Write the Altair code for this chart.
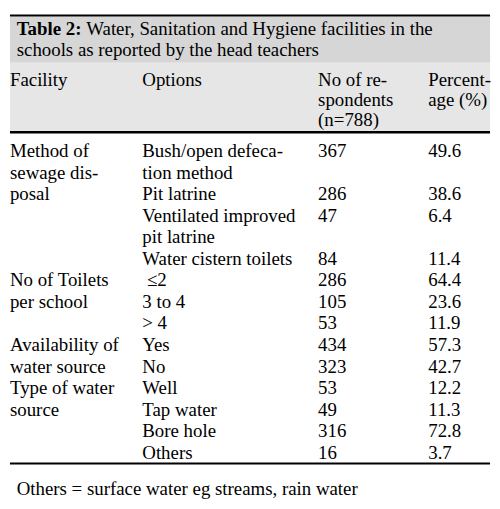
import altair as alt
import pandas as pd

# ---------------- data ----------------
title_bold = "Table 2:"
title_lines = ["Water, Sanitation and Hygiene facilities in the",
               "schools as reported by the head teachers"]
header_cols = [["Facility"], ["Options"],
               ["No of re-", "spondents", "(n=788)"],
               ["Percent-", "age (%)"]]

facilities = [
    ["Method of", "sewage dis-", "posal"],
    ["No of Toilets", "per school"],
    ["Availability of", "water source"],
    ["Type of water", "source"],
]
options = [
    [["Bush/open defeca-", "tion method"], ["Pit latrine"],
     ["Ventilated improved", "pit latrine"], ["Water cistern toilets"]],
    [[" \u22642"], ["3 to 4"], ["> 4"]],
    [["Yes"], ["No"]],
    [["Well"], ["Tap water"], ["Bore hole"], ["Others"]],
]
counts = [[367, 286, 47, 84], [286, 105, 53], [434, 323], [53, 49, 316, 16]]
percents = [[49.6, 38.6, 6.4, 11.4], [64.4, 23.6, 11.9], [57.3, 42.7],
            [12.2, 11.3, 72.8, 3.7]]
footnote = "Others = surface water eg streams, rain water"

# ---------------- layout ----------------
FONT = "Liberation Serif"
FS = 19.3
COL_X = [3, 140, 322, 436]
TITLE_X, TITLE_X2 = 10, 82
TITLE_Y = [22, 44]
HEAD_Y0, HEAD_STEP = 75, 20.8
BODY_Y0, BODY_STEP = 148.5, 22.4
FOOT_X, FOOT_Y = 10, 500
SPACE_W = 0.25 * FS  # width of a leading space, used as indent


def cell(x, y, t, w="normal"):
    indent = len(t) - len(t.lstrip(" "))
    return dict(x=x + indent * SPACE_W, y=y, t=t.lstrip(" "), w=w)


texts = []
texts.append(cell(TITLE_X, TITLE_Y[0], title_bold, "bold"))
texts.append(cell(TITLE_X2, TITLE_Y[0], title_lines[0]))
texts.append(cell(TITLE_X, TITLE_Y[1], title_lines[1]))
for c, lines in enumerate(header_cols):
    for i, ln in enumerate(lines):
        texts.append(cell(COL_X[c], HEAD_Y0 + i * HEAD_STEP, ln))

line = 0
for g, fac in enumerate(facilities):
    start = line
    for i, ln in enumerate(fac):
        texts.append(cell(COL_X[0], BODY_Y0 + (start + i) * BODY_STEP, ln))
    for k, opt in enumerate(options[g]):
        for i, ln in enumerate(opt):
            texts.append(cell(COL_X[1], BODY_Y0 + (line + i) * BODY_STEP, ln))
        texts.append(cell(COL_X[2], BODY_Y0 + line * BODY_STEP, str(counts[g][k])))
        texts.append(cell(COL_X[3], BODY_Y0 + line * BODY_STEP, f"{percents[g][k]:.1f}"))
        line += len(opt)
    line = max(line, start + len(fac))

texts.append(cell(FOOT_X, FOOT_Y, footnote))
tdf = pd.DataFrame(texts)

bands = pd.DataFrame(dict(x=[3, 3], x2=[500, 500], y=[2.5, 50.5], y2=[50.5, 121.5],
                          c=["#d6d6d6", "#e6e6e6"]))
rules = pd.DataFrame(dict(x=[3, 3, 3], x2=[500, 500, 500], y=[1.5, 122.8, 467],
                          sw=[2, 2.5, 2]))

xs = alt.Scale(domain=[3, 500], nice=False, zero=False)
ys = alt.Scale(domain=[1, 509], nice=False, zero=False, reverse=True)

band_layer = alt.Chart(bands).mark_rect().encode(
    x=alt.X("x:Q", scale=xs, axis=None), x2="x2:Q",
    y=alt.Y("y:Q", scale=ys, axis=None), y2="y2:Q",
    color=alt.Color("c:N", scale=None),
)
rule_layer = alt.Chart(rules).mark_rule(color="black").encode(
    x=alt.X("x:Q", scale=xs, axis=None), x2="x2:Q",
    y=alt.Y("y:Q", scale=ys, axis=None),
    strokeWidth=alt.StrokeWidth("sw:Q", scale=None),
)


def text_layer(weight):
    return alt.Chart(tdf).transform_filter(
        alt.datum.w == weight
    ).mark_text(
        align="left", baseline="alphabetic", font=FONT, fontSize=FS,
        color="black", fontWeight=weight,
    ).encode(
        x=alt.X("x:Q", scale=xs, axis=None),
        y=alt.Y("y:Q", scale=ys, axis=None),
        text="t:N",
    )


chart = alt.layer(band_layer, rule_layer, text_layer("normal"), text_layer("bold")).properties(
    width=492, height=501, padding=0, background="white"
).configure_view(stroke=None)

chart.save("out.html", embed_options={"renderer": "svg", "actions": False})
